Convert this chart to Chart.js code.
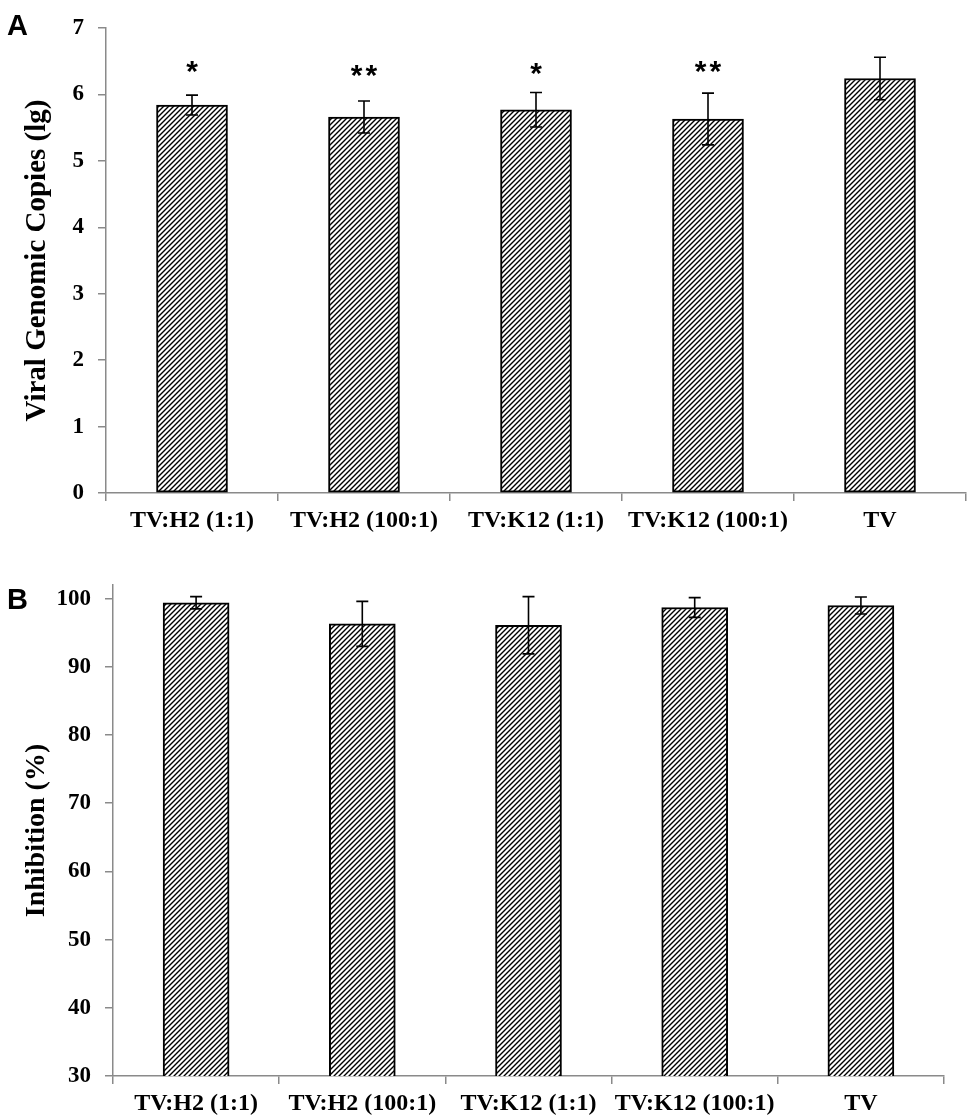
<!DOCTYPE html>
<html>
<head>
<meta charset="utf-8">
<script src="https://cdn.jsdelivr.net/npm/chart.js@4.4.1/dist/chart.umd.min.js"></script>
<style>
  html, body { margin: 0; padding: 0; background: #fff; }
  #pagina { position: relative; width: 970px; height: 1116px; }
  .panel { position: absolute; left: 0; width: 970px; }
</style>
</head>
<body>
<div id="pagina">
  <div class="panel" style="top:0"><canvas id="graficoA" width="970" height="545"></canvas></div>
  <div class="panel" style="top:545px"><canvas id="graficoB" width="970" height="571"></canvas></div>
</div>
<script>
// Datos
const categorias = ['TV:H2 (1:1)', 'TV:H2 (100:1)', 'TV:K12 (1:1)', 'TV:K12 (100:1)', 'TV'];

const copiasVirales = [5.84, 5.66, 5.77, 5.63, 6.24];
const errorCopias = [0.15, 0.24, 0.26, 0.39, 0.32];
const marcasSignificancia = ['*', '**', '*', '**', ''];
const alturaMarcas = [6.41, 6.36, 6.39, 6.42, null];
const ticksCopias = [0, 1, 2, 3, 4, 5, 6, 7];

const inhibicion = [99.4, 96.3, 96.1, 98.7, 99.0];
const errorInhibicion = [0.9, 3.3, 4.2, 1.45, 1.25];
const ticksInhibicion = [30, 40, 50, 60, 70, 80, 90, 100];

const fuenteSerif = '"Liberation Serif", "Times New Roman", serif';
const grisEje = '#8a8a8a';

// Trama de lineas diagonales para rellenar las barras
function crearTrama(ctx) {
  const t = document.createElement('canvas');
  t.width = 5; t.height = 5;
  const c = t.getContext('2d');
  c.fillStyle = '#fff';
  c.fillRect(0, 0, 5, 5);
  c.strokeStyle = '#000';
  c.lineWidth = 1.4;
  c.beginPath();
  c.moveTo(-1, 6); c.lineTo(6, -1);
  c.moveTo(-1, 1); c.lineTo(1, -1);
  c.moveTo(4, 6); c.lineTo(6, 4);
  c.stroke();
  return ctx.createPattern(t, 'repeat');
}

// Barras de error, marcas de significancia y letra del panel
const pluginExtras = {
  id: 'extras',
  afterDatasetsDraw(chart, args, opts) {
    const ctx = chart.ctx;
    const meta = chart.getDatasetMeta(0);
    const y = chart.scales.y;
    ctx.save();
    ctx.strokeStyle = '#000';
    ctx.lineWidth = 1.6;
    meta.data.forEach((barra, i) => {
      const v = chart.data.datasets[0].data[i];
      const e = opts.errores[i];
      const yArr = y.getPixelForValue(v + e);
      const yAba = y.getPixelForValue(v - e);
      ctx.beginPath();
      ctx.moveTo(barra.x, yArr); ctx.lineTo(barra.x, yAba);
      ctx.moveTo(barra.x - 6, yArr); ctx.lineTo(barra.x + 6, yArr);
      ctx.moveTo(barra.x - 6, yAba); ctx.lineTo(barra.x + 6, yAba);
      ctx.stroke();
    });
    if (opts.marcas) {
      ctx.fillStyle = '#000';
      ctx.font = 'bold 30px "Liberation Sans", Arial, sans-serif';
      ctx.textAlign = 'center';
      ctx.textBaseline = 'alphabetic';
      ctx.letterSpacing = '3px';
      meta.data.forEach((barra, i) => {
        const texto = opts.marcas[i];
        if (!texto || opts.alturas[i] == null) return;
        const m = ctx.measureText(texto);
        const yc = y.getPixelForValue(opts.alturas[i]);
        const base = yc + (m.actualBoundingBoxAscent - m.actualBoundingBoxDescent) / 2;
        ctx.fillText(texto, barra.x + 1.5, base);
      });
    }
    ctx.restore();
  },
  afterDraw(chart, args, opts) {
    const ctx = chart.ctx;
    ctx.save();
    ctx.fillStyle = '#000';
    ctx.font = 'bold 29px "Liberation Sans", Arial, sans-serif';
    ctx.textAlign = 'left';
    ctx.textBaseline = 'alphabetic';
    ctx.fillText(opts.letra, opts.letraX, opts.letraY);
    ctx.restore();
  }
};

function crearGrafico(id, conf) {
  const lienzo = document.getElementById(id);
  const ctx = lienzo.getContext('2d');
  return new Chart(ctx, {
    type: 'bar',
    data: {
      labels: categorias,
      datasets: [{
        data: conf.valores,
        backgroundColor: crearTrama(ctx),
        borderColor: '#000',
        borderWidth: 2,
        borderSkipped: false,
        barThickness: conf.grosor
      }]
    },
    options: {
      responsive: false,
      animation: false,
      devicePixelRatio: 1,
      layout: { padding: conf.relleno },
      plugins: {
        legend: { display: false },
        tooltip: { enabled: false },
        extras: {
          errores: conf.errores,
          marcas: conf.marcas,
          alturas: conf.alturas,
          letra: conf.letra,
          letraX: conf.letraX,
          letraY: conf.letraY
        }
      },
      scales: {
        x: {
          grid: { display: true, drawOnChartArea: false, color: grisEje, lineWidth: 1.5, tickLength: 8, offset: true },
          border: { color: grisEje, width: 1.5 },
          ticks: { color: '#000', padding: 5, maxRotation: 0, autoSkip: false, font: { family: fuenteSerif, size: 24, weight: 'bold' } },
          afterFit: (s) => { s.height = conf.altoX; }
        },
        y: {
          min: conf.min,
          max: conf.max,
          afterBuildTicks: (s) => { s.ticks = conf.ticks.map(v => ({ value: v })); },
          grid: { display: true, drawOnChartArea: false, color: grisEje, lineWidth: 1.5, tickLength: 8 },
          border: { color: grisEje, width: 1.5 },
          ticks: { color: '#000', padding: 14, font: { family: fuenteSerif, size: 23, weight: 'bold' } },
          title: {
            display: true,
            text: conf.titulo,
            color: '#000',
            padding: { top: 20, bottom: 0 },
            font: { family: fuenteSerif, size: conf.tamTitulo, weight: 'bold' }
          },
          afterFit: (s) => { s.width = conf.anchoY; }
        }
      }
    },
    plugins: [pluginExtras]
  });
}

crearGrafico('graficoA', {
  valores: copiasVirales,
  errores: errorCopias,
  marcas: marcasSignificancia,
  alturas: alturaMarcas,
  ticks: ticksCopias,
  min: 0, max: 7,
  titulo: 'Viral Genomic Copies (lg)',
  tamTitulo: 29,
  grosor: 71,
  anchoY: 106,
  altoX: 52,
  relleno: { left: 0, right: 4, top: 28, bottom: 0 },
  letra: 'A', letraX: 7, letraY: 35
});

crearGrafico('graficoB', {
  valores: inhibicion,
  errores: errorInhibicion,
  marcas: null,
  alturas: null,
  ticks: ticksInhibicion,
  min: 30, max: 102,
  titulo: 'Inhibition (%)',
  tamTitulo: 28,
  grosor: 66,
  anchoY: 113,
  altoX: 40,
  relleno: { left: 0, right: 26, top: 40, bottom: 0 },
  letra: 'B', letraX: 7, letraY: 64
});
</script>
</body>
</html>
